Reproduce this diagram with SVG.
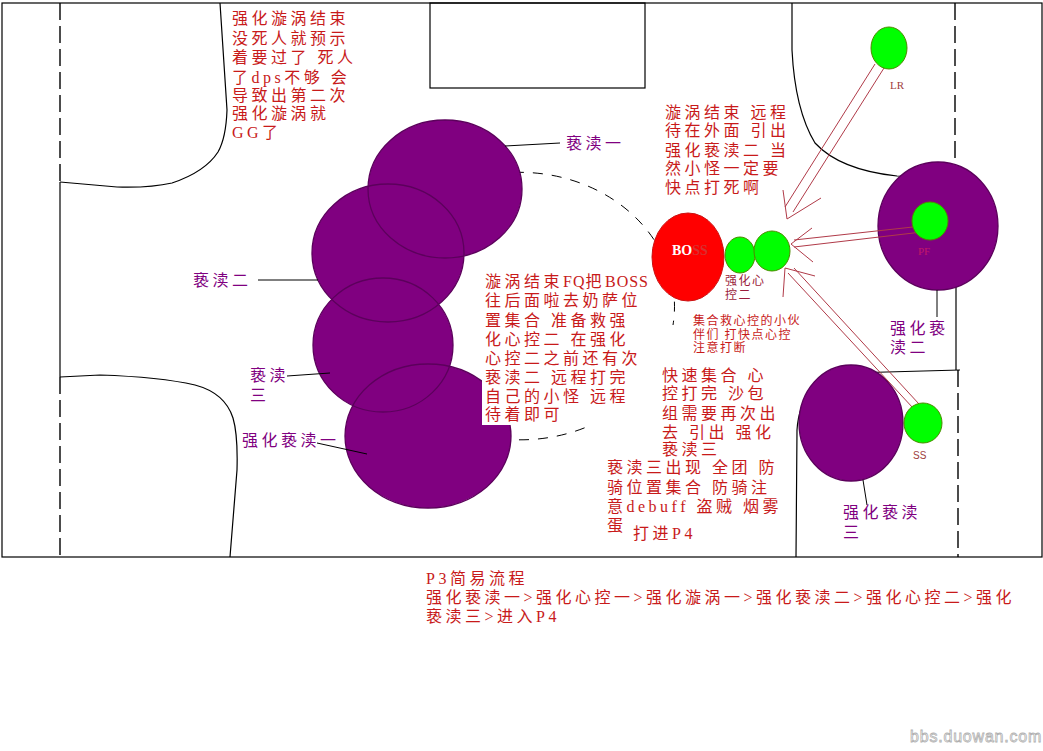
<svg xmlns="http://www.w3.org/2000/svg" width="1043" height="751" viewBox="0 0 1043 751">
<style>
.map{fill:none;stroke:#000;stroke-width:1.2}
.dash{fill:none;stroke:#000;stroke-width:1.4;stroke-dasharray:17 6}
.arc{fill:none;stroke:#000;stroke-width:1;stroke-dasharray:10 9}
.pf{fill:#800080}
.po{fill:none;stroke:#5c005c;stroke-width:1.3}
.gr{fill:#00ff00;stroke:#4d8a00;stroke-width:1}
.boss{fill:#ff0000;stroke:#cc1010;stroke-width:1}
.ln{fill:none;stroke:#000;stroke-width:1}
.ar{fill:none;stroke:#b03a48;stroke-width:1}
.t{font-family:'Liberation Serif','Noto Sans CJK SC',serif;font-size:16px;letter-spacing:3.5px}
.lat{letter-spacing:1px}
.red{fill:#c81a1a}
.pur{fill:#800080}
.sm{font-family:'Liberation Serif','Noto Sans CJK SC',serif;font-size:12px;letter-spacing:1.5px}
</style>
<rect width="1043" height="751" fill="#fff"/>
<g id="map">
<rect class="map" x="2" y="3" width="1040" height="554" stroke-width="1.5"/>
<rect class="map" x="430" y="3" width="215" height="85" stroke-width="1.5"/>
<path class="dash" d="M60,3 V182 M60,377 V557"/>
<path class="map" d="M60,182 V377"/>
<path class="dash" d="M955,3 V175 M958,370 V557"/>
<path class="map" d="M956,175 V370"/>
<path class="map" d="M60,182 L117,187 Q150,188 172,183 Q205,172 218,152 Q226,138 227,110 L220,3"/>
<path class="map" d="M60,377 L100,375 Q160,377 195,385 Q225,393 233,418 Q238,435 237,470 L230,557"/>
<path class="map" d="M792,3 L792,50 Q795,110 815,143 Q840,170 897,176 L956,177"/>
<path class="map" d="M796,557 L797,430 Q800,380 850,373 L960,370"/>
<path class="arc" d="M495,174 A155,134 0 0 1 673,325"/>
<path class="arc" d="M618,410 A155,134 0 0 1 495,438"/>
</g>
<g id="purple-fills">
<ellipse class="pf" cx="445" cy="189" rx="77" ry="69"/>
<ellipse class="pf" cx="388" cy="253" rx="76" ry="69"/>
<ellipse class="pf" cx="383" cy="345" rx="70" ry="67"/>
<ellipse class="pf" cx="428" cy="436" rx="83" ry="72"/>
<ellipse class="pf" cx="938" cy="226" rx="60" ry="64"/>
<ellipse class="pf" cx="851" cy="423" rx="52" ry="58"/>
</g>
<g id="purple-outlines">
<ellipse class="po" cx="445" cy="189" rx="77" ry="69"/>
<ellipse class="po" cx="388" cy="253" rx="76" ry="69"/>
<ellipse class="po" cx="383" cy="345" rx="70" ry="67"/>
<ellipse class="po" cx="428" cy="436" rx="83" ry="72"/>
<ellipse class="po" cx="938" cy="226" rx="60" ry="64"/>
<ellipse class="po" cx="851" cy="423" rx="52" ry="58"/>
</g>
<g id="connectors">
<path class="ln" d="M505,146 L560,143"/>
<path class="ln" d="M258,280 L318,280"/>
<path class="ln" d="M287,376 L330,373"/>
<path class="ln" d="M317,443 L367,454"/>
<path class="ln" d="M937,290 L937,317"/>
<path class="ln" d="M863,480 L867,505"/>
<path class="ar" d="M875,64 L785,207 M884,68 L793,212 M783,190 L787,219 L821,198"/>
<path class="ar" d="M922,226 L794,240 M922,232 L794,247 M812,228 L791,244 L813,262"/>
<path class="ar" d="M913,408 L788,273 M919,404 L794,268 M815,276 L785,268 L783,297"/>
</g>
<g id="boss">
<ellipse class="boss" cx="688" cy="257" rx="36" ry="44"/>
<text x="672" y="255" font-family="'Liberation Serif',serif" font-size="14" font-weight="bold"><tspan fill="#fff">BO</tspan><tspan fill="#d83030">SS</tspan></text>
</g>
<g id="mind-control">
<ellipse class="gr" cx="740" cy="255" rx="15" ry="18"/>
<ellipse class="gr" cx="772" cy="251" rx="18" ry="20"/>
<text class="sm" fill="#9a1c3c" x="725"><tspan x="725" y="285">强化心</tspan><tspan x="725" y="299">控二</tspan></text>
</g>
<g id="lr">
<ellipse class="gr" cx="889" cy="48" rx="18" ry="21"/>
<text x="890" y="89" font-family="'Liberation Serif',serif" font-size="11" fill="#a04040">LR</text>
</g>
<g id="pf">
<ellipse class="gr" cx="930" cy="221" rx="18" ry="19"/>
<text x="918" y="255" font-family="'Liberation Serif',serif" font-size="11" fill="#c0186a">PF</text>
</g>
<g id="ss">
<ellipse class="gr" cx="923" cy="423" rx="19" ry="20"/>
<text x="913" y="459" font-family="'Liberation Sans',sans-serif" font-size="10" fill="#a04040">SS</text>
</g>
<g id="labels">
<text class="t pur" x="566" y="149">亵渎一</text>
<text class="t pur" x="193" y="286">亵渎二</text>
<text class="t pur"><tspan x="250" y="381">亵渎</tspan><tspan x="250" y="401">三</tspan></text>
<text class="t pur" x="242" y="446">强化亵渎一</text>
<text class="t pur"><tspan x="890" y="334">强化亵</tspan><tspan x="890" y="353">渎二</tspan></text>
<text class="t pur"><tspan x="843" y="518">强化亵渎</tspan><tspan x="843" y="538">三</tspan></text>
</g>
<g id="note-top-left">
<text class="t red"><tspan x="232" y="24">强化漩涡结束</tspan><tspan x="232" y="44">没死人就预示</tspan><tspan x="232" y="63">着要过了 死人</tspan><tspan x="232" y="83">了dps不够 会</tspan><tspan x="232" y="101">导致出第二次</tspan><tspan x="232" y="119">强化漩涡就</tspan><tspan x="232" y="138">GG了</tspan></text>
</g>
<g id="note-top-right">
<text class="t red"><tspan x="665" y="118">漩涡结束 远程</tspan><tspan x="665" y="136">待在外面 引出</tspan><tspan x="665" y="156">强化亵渎二 当</tspan><tspan x="665" y="174">然小怪一定要</tspan><tspan x="665" y="193">快点打死啊</tspan></text>
</g>
<g id="note-center">
<rect x="482" y="265" width="166" height="160" fill="#fff"/>
<text class="t red"><tspan x="485" y="287">漩涡结束<tspan class="lat">FQ</tspan>把<tspan class="lat">BOSS</tspan></tspan><tspan x="485" y="306">往后面啦去奶萨位</tspan><tspan x="485" y="326">置集合 准备救强</tspan><tspan x="485" y="345">化心控二 在强化</tspan><tspan x="485" y="364">心控二之前还有次</tspan><tspan x="485" y="383">亵渎二 远程打完</tspan><tspan x="485" y="402">自己的小怪 远程</tspan><tspan x="485" y="420">待着即可</tspan></text>
</g>
<g id="note-gather">
<text class="sm red"><tspan x="693" y="325">集合救心控的小伙</tspan><tspan x="693" y="339">伴们 打快点心控</tspan><tspan x="693" y="352">注意打断</tspan></text>
</g>
<g id="note-sandbag">
<text class="t red"><tspan x="662" y="381">快速集合 心</tspan><tspan x="662" y="399">控打完 沙包</tspan><tspan x="662" y="419">组需要再次出</tspan><tspan x="662" y="438">去 引出 强化</tspan><tspan x="662" y="455">亵渎三</tspan></text>
</g>
<g id="note-phase3">
<text class="t red"><tspan x="607" y="473">亵渎三出现 全团 防</tspan><tspan x="607" y="493">骑位置集合 防骑注</tspan><tspan x="607" y="512">意debuff 盗贼 烟雾</tspan><tspan x="607" y="531">蛋</tspan><tspan x="633" y="539">打进P4</tspan></text>
</g>
<g id="flow">
<text class="t red"><tspan x="426" y="584">P3简易流程</tspan><tspan x="426" y="603">强化亵渎一&gt;强化心控一&gt;强化漩涡一&gt;强化亵渎二&gt;强化心控二&gt;强化</tspan><tspan x="426" y="622">亵渎三&gt;进入P4</tspan></text>
</g>
<g id="watermark">
<text x="910" y="742" font-family="'Liberation Sans',sans-serif" font-size="16" letter-spacing="0.8" fill="#fff" stroke="#b0b0b0" stroke-width="0.8">bbs.duowan.com</text>
</g>
</svg>
